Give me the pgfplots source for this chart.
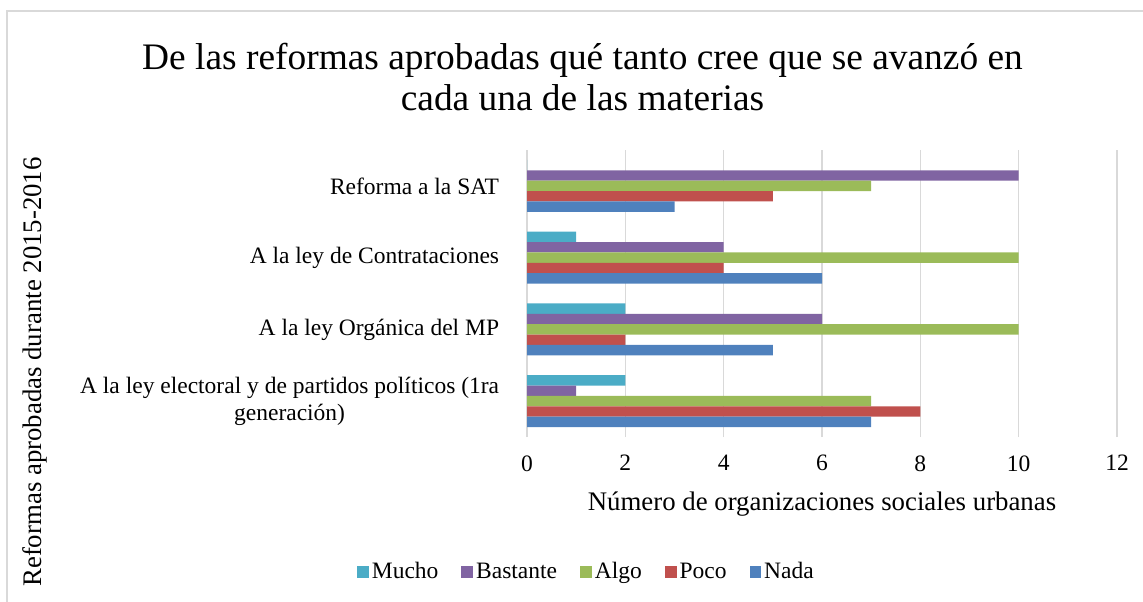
\documentclass[border=0pt]{standalone}
\usepackage{fontspec}
\setmainfont{Liberation Serif}
\usepackage{pgfplots}
\pgfplotsset{compat=1.18}
\definecolor{cMucho}{HTML}{4BACC6}
\definecolor{cBast}{HTML}{8064A2}
\definecolor{cAlgo}{HTML}{9BBB59}
\definecolor{cPoco}{HTML}{C0504D}
\definecolor{cNada}{HTML}{4F81BD}
\definecolor{gridgray}{HTML}{D9D9D9}
\begin{document}
\begin{tikzpicture}
\path[use as bounding box] (0,0) rectangle (571.5pt,300.5pt);
\draw[gridgray, line width=0.8pt] (3.5pt,-2pt) -- (3.5pt,295pt) -- (575pt,295pt);
\node[align=center, font=\fontsize{18.7}{20.5}\selectfont] at (291.25pt,262pt)
  {De las reformas aprobadas qué tanto cree que se avanzó en\\cada una de las materias};
\node[rotate=90, font=\fontsize{13.4}{15}\selectfont] at (17.5pt,114.5pt)
  {Reformas aprobadas durante 2015-2016};
\node[font=\fontsize{13.4}{15}\selectfont] at (411pt,48.5pt)
  {Número de organizaciones sociales urbanas};
\begin{axis}[
  at={(263.5pt,82pt)}, anchor=south west,
  scale only axis, width=295pt, height=143.5pt,
  xbar, bar width=0.145,
  xmin=0, xmax=12, ymin=-0.5, ymax=3.5,
  xtick={0,2,...,12}, ytick={0,1,2,3},
  yticklabels={{A la ley electoral y de partidos políticos (1ra\\generación)},{A la ley Orgánica del MP},{A la ley de Contrataciones},{Reforma a la SAT}},
  xmajorgrids, grid style={gridgray, line width=0.8pt},
  axis line style={draw=none},
  major tick style={draw=none},
  /pgf/number format/assume math mode=true,
  ticklabel style={font=\fontsize{11.75}{13.5}\selectfont},
  yticklabel style={align=center, inner sep=0pt, xshift=-9.5pt},
  xticklabel style={inner sep=0pt, yshift=-9pt},
  legend columns=5,
  legend style={draw=none, at={(0.1017,-0.470)}, anchor=center,
    font=\fontsize{11.75}{13.5}\selectfont,
    /tikz/every even column/.append style={column sep=10pt},
    nodes={inner sep=1.5pt}},
  legend image code/.code={\fill[#1] (0pt,-2.9pt) rectangle (5.85pt,2.9pt);},
]
\addplot[fill=cMucho, draw=none, bar shift=0.29] coordinates {(2,0) (2,1) (1,2) (0,3)};
\addlegendentry{Mucho}
\addplot[fill=cBast, draw=none, bar shift=0.145] coordinates {(1,0) (6,1) (4,2) (10,3)};
\addlegendentry{Bastante}
\addplot[fill=cAlgo, draw=none, bar shift=0] coordinates {(7,0) (10,1) (10,2) (7,3)};
\addlegendentry{Algo}
\addplot[fill=cPoco, draw=none, bar shift=-0.145] coordinates {(8,0) (2,1) (4,2) (5,3)};
\addlegendentry{Poco}
\addplot[fill=cNada, draw=none, bar shift=-0.29] coordinates {(7,0) (5,1) (6,2) (3,3)};
\addlegendentry{Nada}
\end{axis}
\end{tikzpicture}
\end{document}
